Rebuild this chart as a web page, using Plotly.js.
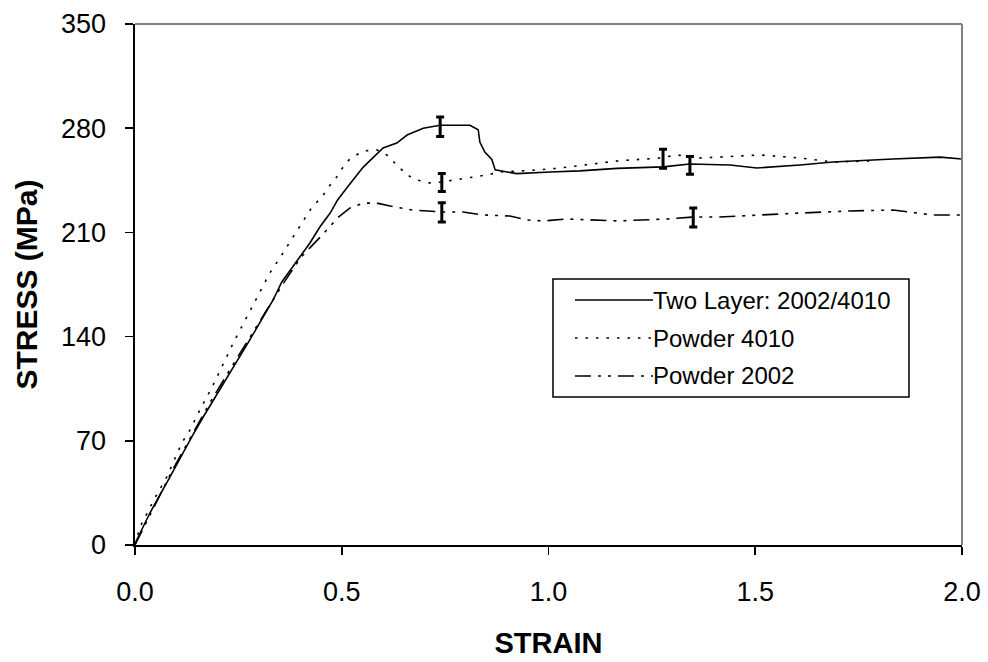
<!DOCTYPE html>
<html>
<head>
<meta charset="utf-8">
<script src="https://cdn.plot.ly/plotly-3.0.1.min.js"></script>
<style>html,body{margin:0;padding:0;background:#fff;}#chart{width:988px;height:662px;}</style>
</head>
<body>
<div id="chart"></div>
<script>
// Series names
const seriesNames = ["Two Layer: 2002/4010", "Powder 4010", "Powder 2002"];

// Two Layer: 2002/4010 (solid)
const twoLayerStrain = [0, 0.036, 0.085, 0.116, 0.14, 0.165, 0.198, 0.218, 0.278, 0.334, 0.355, 0.423, 0.447, 0.472, 0.49, 0.512, 0.552, 0.60, 0.633, 0.658, 0.697, 0.738, 0.81, 0.83, 0.834, 0.846, 0.863, 0.871, 0.9, 0.923, 1.004, 1.076, 1.166, 1.277, 1.342, 1.439, 1.504, 1.543, 1.608, 1.688, 1.753, 1.833, 1.947, 2.0];
const twoLayerStress = [1, 21.5, 46, 62, 74, 86, 101, 110.8, 138, 164.6, 176.7, 202.9, 213.6, 223, 231.8, 239.8, 253.9, 266.7, 270, 275.4, 280, 282, 282, 279, 270.7, 264, 259, 252, 250.6, 249.5, 250.6, 251.3, 253, 254, 256, 255.3, 253.3, 254, 255.3, 257.3, 258, 259.3, 260.6, 259.3];

// Powder 4010 (dotted)
const p4010Strain = [0, 0.012, 0.048, 0.077, 0.113, 0.133, 0.157, 0.189, 0.24, 0.297, 0.326, 0.358, 0.392, 0.428, 0.452, 0.472, 0.49, 0.51, 0.527, 0.552, 0.585, 0.609, 0.633, 0.658, 0.682, 0.713, 0.742, 0.793, 0.851, 0.883, 0.95, 1.02, 1.093, 1.166, 1.27, 1.311, 1.366, 1.511, 1.608, 1.688, 1.78];
const p4010Stress = [0, 12, 31.6, 45.7, 68.5, 77.3, 90.7, 107.5, 137, 166.6, 182.7, 196.2, 211.6, 227, 233.8, 241.8, 248, 257, 260.6, 264.7, 265.4, 262, 255.3, 248.6, 245.2, 243.2, 243.9, 245.9, 248.6, 250.6, 251.5, 253, 255.3, 258, 260, 262, 260, 262, 260, 257.3, 258];

// Powder 2002 (dash-dot-dot)
const p2002Strain = [0, 0.04, 0.09, 0.13, 0.18, 0.23, 0.29, 0.35, 0.40, 0.452, 0.491, 0.52, 0.552, 0.585, 0.617, 0.672, 0.742, 0.793, 0.842, 0.907, 0.948, 0.987, 1.045, 1.166, 1.287, 1.35, 1.407, 1.487, 1.608, 1.729, 1.833, 1.93, 2.0];
const p2002Stress = [0, 22, 50, 70, 95, 118, 145, 172, 193, 208, 220, 226.4, 229.7, 229.7, 227.7, 225, 223.7, 223.7, 221.7, 221, 218.3, 217.7, 219, 217.7, 219, 220.3, 220.3, 221.5, 223, 224.4, 225, 221.7, 221.7];

// Error bar points
const twoLayerErrStrain = [0.738, 1.342];
const twoLayerErrStress = [281, 255];
const twoLayerErr = [6.5, 6];
const p4010ErrStrain = [0.742, 1.277];
const p4010ErrStress = [243.5, 259.5];
const p4010Err = [6, 6.4];
const p2002ErrStrain = [0.742, 1.35];
const p2002ErrStress = [223.5, 220];
const p2002Err = [6.5, 6.4];

// Axis ticks
const xTicks = [0, 0.5, 1.0, 1.5, 2.0];
const xTickLabels = ["0.0", "0.5", "1.0", "1.5", "2.0"];
const yTicks = [0, 70, 140, 210, 280, 350];
const yTickLabels = ["0", "70", "140", "210", "280", "350"];

const FONT = "Arial, 'Liberation Sans', sans-serif";
const dashes = ["solid", "2.5px,8px", "16px,7px,3px,7px,3px,7px"];

function curve(x, y, name, dash) {
  return {x: x, y: y, type: "scatter", mode: "lines", name: name, showlegend: false,
    line: {color: "#000", width: 1.6, dash: dash}, hoverinfo: "x+y"};
}
function errTrace(x, y, e) {
  return {x: x, y: y, type: "scatter", mode: "markers", showlegend: false, hoverinfo: "skip",
    marker: {size: 1, color: "rgba(0,0,0,0)"},
    error_y: {type: "data", array: e, symmetric: true, color: "#000", thickness: 3, width: 4}};
}

const data = [
  curve(twoLayerStrain, twoLayerStress, seriesNames[0], dashes[0]),
  curve(p4010Strain, p4010Stress, seriesNames[1], dashes[1]),
  curve(p2002Strain, p2002Stress, seriesNames[2], dashes[2]),
  errTrace(twoLayerErrStrain, twoLayerErrStress, twoLayerErr),
  errTrace(p4010ErrStrain, p4010ErrStress, p4010Err),
  errTrace(p2002ErrStrain, p2002ErrStress, p2002Err)
];

// custom legend (paper coords)
const legX0 = 0.5054, legX1 = 0.9359, legY0 = 0.2841, legY1 = 0.5106;
const sampleX0 = 0.532, sampleX1 = 0.6264;
const rowY = [0.4702, 0.3973, 0.3244];

const shapes = [
  {type: "line", xref: "paper", yref: "paper", x0: 0, x1: 1, y0: 1, y1: 1, line: {color: "#808080", width: 2}},
  {type: "line", xref: "paper", yref: "paper", x0: 1, x1: 1, y0: 0, y1: 1, line: {color: "#808080", width: 2}},
  {type: "rect", xref: "paper", yref: "paper", x0: legX0, x1: legX1, y0: legY0, y1: legY1,
   line: {color: "#000", width: 1.5}, fillcolor: "rgba(255,255,255,0)"}
];
const annotations = [];
seriesNames.forEach(function (n, i) {
  shapes.push({type: "line", xref: "paper", yref: "paper", x0: sampleX0, x1: sampleX1, y0: rowY[i], y1: rowY[i],
    line: {color: "#000", width: 1.6, dash: dashes[i]}});
  annotations.push({xref: "paper", yref: "paper", x: sampleX1, y: rowY[i], xanchor: "left", yanchor: "middle",
    text: n, showarrow: false, xshift: -2, font: {family: FONT, size: 24, color: "#000"}});
});

const layout = {
  width: 988, height: 662,
  margin: {l: 135, r: 26, t: 24, b: 117},
  paper_bgcolor: "#fff", plot_bgcolor: "#fff",
  showlegend: false,
  font: {family: FONT, color: "#000"},
  xaxis: {
    range: [0, 2], tickvals: xTicks, ticktext: xTickLabels,
    showgrid: false, zeroline: false, showline: true, linecolor: "#000", linewidth: 1.6,
    ticks: "outside", ticklen: 8, tickwidth: 1.6, tickcolor: "#000",
    tickfont: {family: FONT, size: 27, color: "#000"}, ticklabelstandoff: 14,
    title: {text: "<b>STRAIN</b>", font: {family: FONT, size: 29, color: "#000"}, standoff: 26},
    automargin: false
  },
  yaxis: {
    range: [0, 350], tickvals: yTicks, ticktext: yTickLabels,
    showgrid: false, zeroline: false, showline: true, linecolor: "#000", linewidth: 1.6,
    ticks: "outside", ticklen: 8, tickwidth: 1.6, tickcolor: "#000",
    tickfont: {family: FONT, size: 27, color: "#000"}, ticklabelstandoff: 14,
    title: {text: "<b>STRESS (MPa)</b>", font: {family: FONT, size: 30, color: "#000"}, standoff: 14},
    automargin: false
  },
  shapes: shapes,
  annotations: annotations
};

Plotly.newPlot("chart", data, layout, {displayModeBar: false, staticPlot: true});
</script>
</body>
</html>
